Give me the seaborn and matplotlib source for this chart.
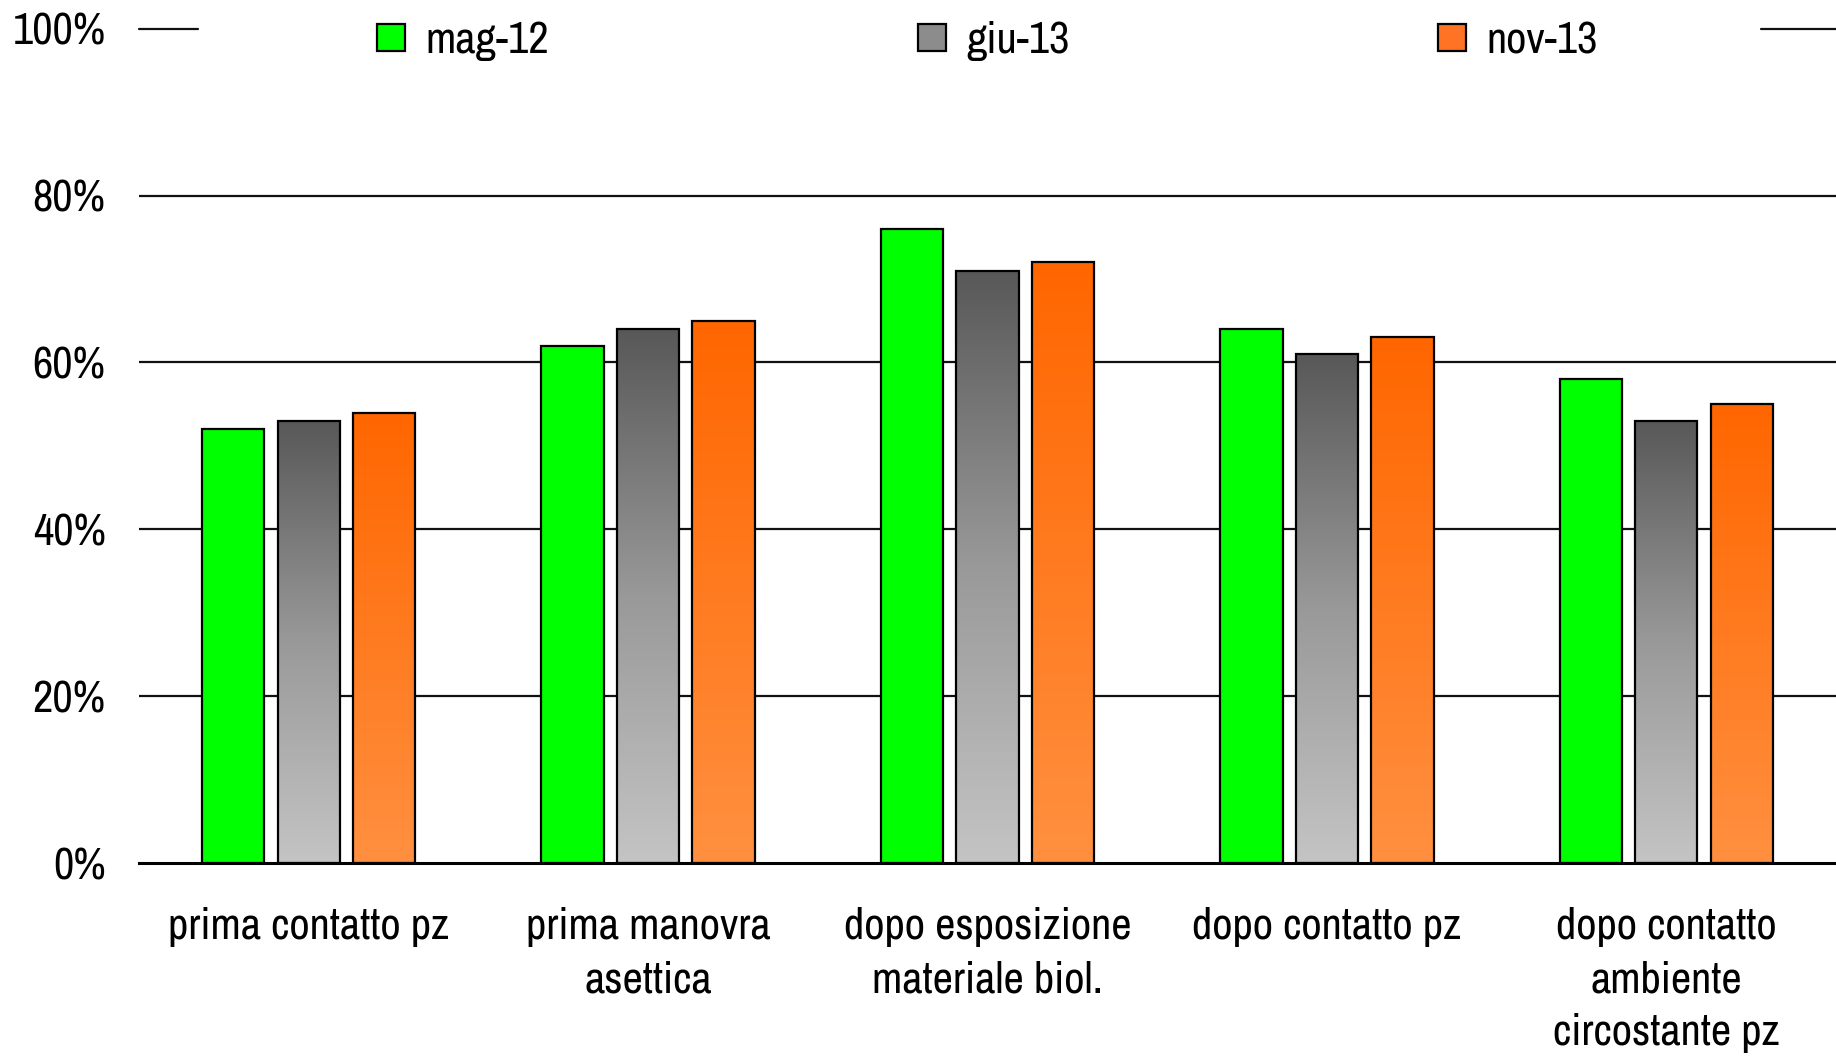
import matplotlib.pyplot as plt
import matplotlib.colors as mcolors
import matplotlib.ticker as mticker
import numpy as np
import pandas as pd
import seaborn as sns

# Dati
categories = ['prima contatto pz', 'prima manovra\nasettica', 'dopo esposizione\nmateriale biol.',
              'dopo contatto pz', 'dopo contatto\nambiente\ncircostante pz']
periods = ['mag-12', 'giu-13', 'nov-13']
mag_12 = [0.52, 0.62, 0.76, 0.64, 0.58]
giu_13 = [0.53, 0.64, 0.71, 0.61, 0.53]
nov_13 = [0.54, 0.65, 0.72, 0.63, 0.55]
y_ticks = [0, 0.2, 0.4, 0.6, 0.8, 1.0]

df = pd.DataFrame({
    'categoria': categories * 3,
    'periodo': np.repeat(periods, len(categories)),
    'valore': mag_12 + giu_13 + nov_13,
})

palette = {'mag-12': '#00ff00', 'giu-13': '#5a5a5a', 'nov-13': '#ff6600'}
# gradienti (basso, alto) per le barre grigie e arancioni
gradients = {'giu-13': ('#c4c4c4', '#999999', '#585858'), 'nov-13': ('#ff9040', '#ff6600')}
legend_colors = {'mag-12': '#00ff00', 'giu-13': '#8c8c8c', 'nov-13': '#ff7424'}

sns.set_style('white')
plt.rcParams['font.family'] = ['Liberation Sans Narrow', 'Archivo Narrow', 'DejaVu Sans']
plt.rcParams['text.color'] = 'black'
fs = 32

fig = plt.figure(figsize=(18.36, 10.57), dpi=100)
ax = fig.add_axes([0.0757, 0.1835, 0.9243, 0.7893])

sns.barplot(data=df, x='categoria', y='valore', hue='periodo', hue_order=periods,
            palette=palette, saturation=1, width=0.667, gap=0.174, edgecolor='black',
            linewidth=1.6, errorbar=None, ax=ax)

# riempimento sfumato per giu-13 e nov-13
ramp = np.linspace(0, 1, 256).reshape(-1, 1)
for period, container in zip(periods, ax.containers):
    if period not in gradients:
        continue
    cmap = mcolors.LinearSegmentedColormap.from_list(period, list(gradients[period]))
    for bar in container:
        x0, y0 = bar.get_x(), bar.get_y()
        w, h = bar.get_width(), bar.get_height()
        bar.set_facecolor('none')
        ax.imshow(ramp, extent=[x0, x0 + w, y0, y0 + h], origin='lower', cmap=cmap,
                  aspect='auto', interpolation='bilinear', zorder=bar.get_zorder() - 0.05)

ax.set_xlim(-0.5, len(categories) - 0.5)
ax.set_ylim(0, 1)
ax.set_yticks(y_ticks)
ax.yaxis.set_major_formatter(mticker.PercentFormatter(1.0, decimals=0))

# linee della griglia
for yv in y_ticks[1:-1]:
    ax.axhline(yv, color='#111111', lw=1.6, zorder=0.5)
ax.axhline(1.0, xmax=0.035, color='#111111', lw=1.6, zorder=0.5, clip_on=False)
ax.axhline(1.0, xmin=0.956, color='#111111', lw=1.6, zorder=0.5, clip_on=False)

for side in ['left', 'top', 'right']:
    ax.spines[side].set_visible(False)
ax.spines['bottom'].set_color('black')
ax.spines['bottom'].set_linewidth(2.2)
ax.spines['bottom'].set_zorder(3)

ax.tick_params(axis='both', length=0, labelsize=fs, colors='black')
ax.tick_params(axis='y', pad=24)
ax.tick_params(axis='x', pad=32)
for lbl in ax.get_xticklabels():
    lbl.set_linespacing(1.4)
ax.set_xlabel('')
ax.set_ylabel('')

handles, labels = ax.get_legend_handles_labels()
ax.get_legend().remove()
leg = ax.legend(handles, labels, ncol=3, loc='center', bbox_to_anchor=(0.5, 0.985),
                frameon=False, fontsize=fs, handlelength=0.63, handleheight=0.58,
                handletextpad=0.45, columnspacing=8.3)
for h, lab in zip(leg.legend_handles, labels):
    h.set_facecolor(legend_colors[lab])
    h.set_edgecolor('black')
    h.set_linewidth(1.6)

fig.savefig('out.png', dpi=100)
